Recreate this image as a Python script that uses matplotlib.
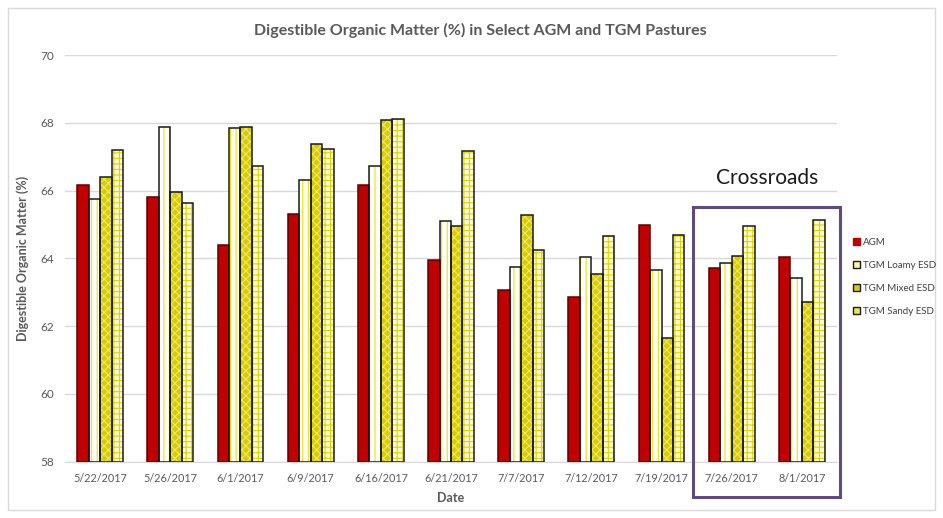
import matplotlib
matplotlib.use("Agg")
import matplotlib.pyplot as plt
import numpy as np
from matplotlib.patches import Rectangle, Patch

plt.rcParams['font.family'] = ['Lato', 'DejaVu Sans']

dates = ["5/22/2017", "5/26/2017", "6/1/2017", "6/9/2017", "6/16/2017", "6/21/2017",
         "7/7/2017", "7/12/2017", "7/19/2017", "7/26/2017", "8/1/2017"]
agm =   [66.15, 65.81, 64.39, 65.31, 66.17, 63.94, 63.08, 62.87, 64.97, 63.71, 64.05]
loamy = [65.75, 67.87, 67.84, 66.30, 66.73, 65.10, 63.75, 64.03, 63.67, 63.86, 63.41]
mixed = [66.40, 65.96, 67.87, 67.36, 68.07, 64.95, 65.29, 63.54, 61.64, 64.08, 62.70]
sandy = [67.20, 65.64, 66.73, 67.23, 68.11, 67.16, 64.25, 64.66, 64.69, 64.95, 65.14]
series_names = ["AGM", "TGM Loamy ESD", "TGM Mixed ESD", "TGM Sandy ESD"]
yticks = [58, 60, 62, 64, 66, 68, 70]

styles = [
    dict(face="#c00000", hatch=None, hcol="#c00000", leg="#c00000"),
    dict(face="#ffffff", hatch="|||", hcol="#ece400", leg="#fbf6a8"),
    dict(face="#d6cc00", hatch="xxxx", hcol="#efe870", leg="#d6cc00"),
    dict(face="#fffbd0", hatch="+++", hcol="#e0d400", leg="#eee650"),
]

fig = plt.figure(figsize=(9.43, 5.18), dpi=100)
ax = fig.add_axes([65/943, 1 - 461.7/518, (837-65)/943, (461.7-55)/518])

plt.rcParams['hatch.linewidth'] = 0.8
x = np.arange(len(dates))
bw = 0.163
base = 58
handles = []
for i, (vals, st, name) in enumerate(zip([agm, loamy, mixed, sandy], styles, series_names)):
    pos = x + (i - 1.5) * bw
    h = np.array(vals) - base
    ax.bar(pos, h, bw, bottom=base, color=st["face"], edgecolor=st["hcol"],
           hatch=st["hatch"], linewidth=0, zorder=3)
    ax.bar(pos, h, bw, bottom=base, facecolor="none",
           edgecolor="#1a1a1a" if i > 0 else "#600000", linewidth=1.1, zorder=4)
    handles.append(Patch(facecolor=st["leg"],
                         edgecolor="#1a1a1a" if i > 0 else st["face"],
                         linewidth=1.0, label=name))

ax.set_xlim(-0.5, len(dates) - 0.5)
ax.set_ylim(58, 70)
ax.set_yticks(yticks)
ax.set_yticklabels([str(t) for t in yticks], color="#595959", fontsize=8.5)
ax.set_xticks(x)
ax.set_xticklabels(dates, color="#595959", fontsize=7.8)
ax.tick_params(axis="both", length=0, pad=8)
ax.grid(axis="y", color="#d9d9d9", linewidth=1, zorder=0)
for s in ["top", "right", "left"]:
    ax.spines[s].set_visible(False)
ax.spines["bottom"].set_color("#d9d9d9")
ax.set_xlabel("Date", color="#595959", fontsize=9, fontweight="bold", labelpad=6)
ax.set_ylabel("Digestible Organic Matter (%)", color="#595959", fontsize=9,
              fontweight="bold", labelpad=8)

fig.text(480/943, 1 - 30/518, "Digestible Organic Matter (%) in Select AGM and TGM Pastures",
         ha="center", va="center", fontsize=11.5, color="#595959", fontweight="bold")

leg = fig.legend(handles=handles, loc="upper left", bbox_to_anchor=(853/943, 1 - 238/518),
                 frameon=False, fontsize=7, handlelength=0.75, handleheight=0.75,
                 handletextpad=0.3, labelspacing=1.45, borderaxespad=0, borderpad=0)
for t in leg.get_texts():
    t.set_color("#404040")

fig.text(767/943, 1 - 178/518, "Crossroads", ha="center", va="center",
         fontsize=15, color="#1a1a1a")
fig.patches.append(Rectangle((693/943, 1 - 497/518), 147/943, 290/518,
                             transform=fig.transFigure, fill=False,
                             edgecolor="#5e4b86", linewidth=2.2))
fig.patches.append(Rectangle((8/943, 1 - 510/518), 927/943, 502/518,
                             transform=fig.transFigure, fill=False,
                             edgecolor="#d9d9d9", linewidth=1))

fig.savefig("out.png", dpi=100)
